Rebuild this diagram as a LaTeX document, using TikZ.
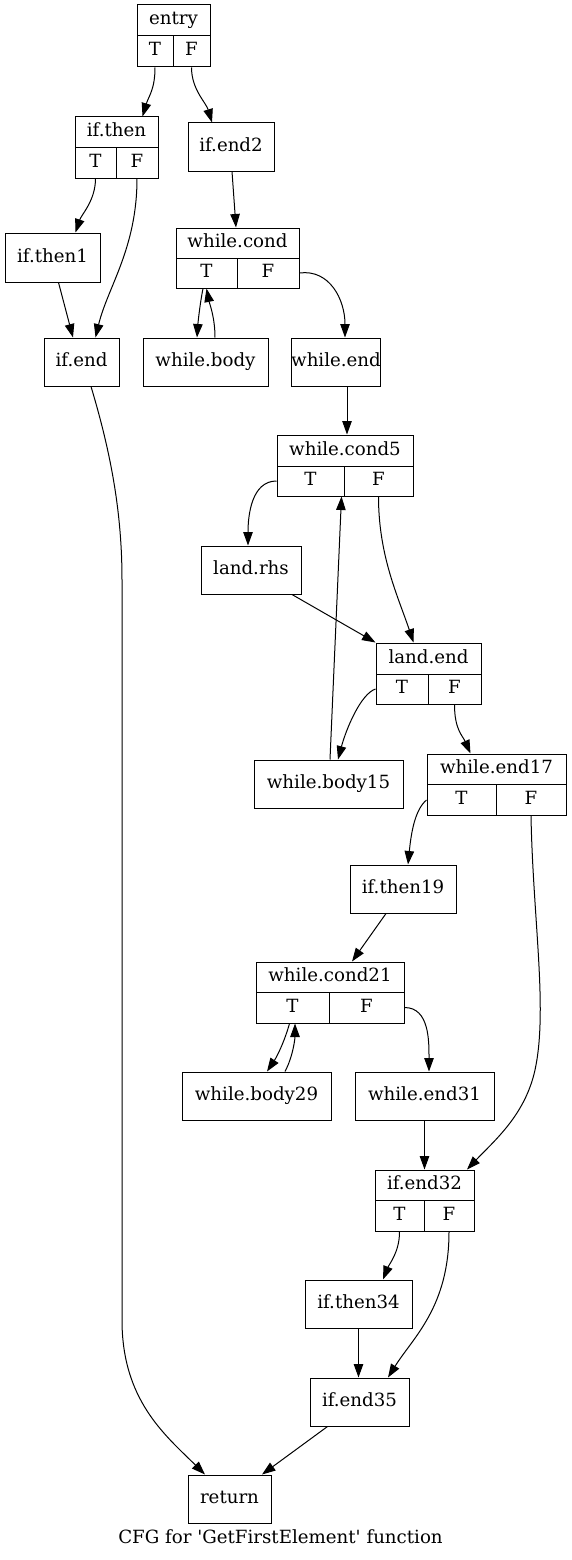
\documentclass[tikz,border=0pt]{standalone}
\usepackage{fontspec}
\setmainfont{DejaVu Serif}[Ligatures=TeXOff]
\usetikzlibrary{arrows.meta,calc}

\tikzset{
	blk/.style={draw, line width=1pt, inner sep=0pt, text height=13pt, text depth=4pt,
		font=\fontsize{18.2}{21}\selectfont},
	sz/.style 2 args={minimum width=#1pt, minimum height=#2pt},
	edge/.style={line width=1pt, -{Triangle[length=13.5pt,width=9.5pt]}},
}

\begin{document}
\begin{tikzpicture}[x=1pt,y=-1pt]
		\useasboundingbox (0,0) rectangle (571,1560);

		% entry block with its T and F cells
		\node[blk, sz={73}{31}] (entry) at (173.5,20.5) {entry};
		\node[blk, sz={36}{31}] (entryT) at (155,51.5) {T};
		\node[blk, sz={37}{31}] (entryF) at (191.5,51.5) {F};

		% if.then block
		\node[blk, sz={83}{30}] (ifthen) at (116.5,132) {if.then};
		\node[blk, sz={41}{31}] (ifthenT) at (95.5,162.5) {T};
		\node[blk, sz={42}{31}] (ifthenF) at (137,162.5) {F};

		% if.end2, if.then1, if.end
		\node[blk, sz={86}{48}] (ifend2) at (231,147) {if.end2};
		\node[blk, sz={95}{49}] (ifthen1) at (52.5,257.5) {if.then1};
		\node[blk, sz={75}{48}] (ifend) at (81.5,362) {if.end};

		% while.cond block
		\node[blk, sz={123}{30}] (whilecond) at (237.5,243) {while.cond};
		\node[blk, sz={61}{30}] (whilecondT) at (206.5,273) {T};
		\node[blk, sz={62}{30}] (whilecondF) at (268,273) {F};

		% while.body, while.end
		\node[blk, sz={125}{48}] (whilebody) at (205.5,362) {while.body};
		\node[blk, sz={88}{48}] (whileend) at (336,362) {while.end};

		% while.cond5 block
		\node[blk, sz={136}{31}] (whilecondfive) at (345,450.5) {while.cond5};
		\node[blk, sz={67}{30}] (whilecondfiveT) at (310.5,481) {T};
		\node[blk, sz={69}{30}] (whilecondfiveF) at (378.5,481) {F};

		% land.rhs
		\node[blk, sz={100}{48}] (landrhs) at (251,570) {land.rhs};

		% land.end block
		\node[blk, sz={105}{31}] (landend) at (428.5,658.5) {land.end};
		\node[blk, sz={52}{30}] (landendT) at (402,689) {T};
		\node[blk, sz={53}{30}] (landendF) at (454.5,689) {F};

		% while.body15
		\node[blk, sz={149}{48}] (whilebodyfifteen) at (328.5,784) {while.body15};

		% while.end17 block
		\node[blk, sz={139}{30}] (whileendseventeen) at (496.5,769) {while.end17};
		\node[blk, sz={69}{31}] (whileendseventeenT) at (461.5,800) {T};
		\node[blk, sz={70}{31}] (whileendseventeenF) at (531,800) {F};

		% if.then19
		\node[blk, sz={106}{48}] (ifthennineteen) at (403,889) {if.then19};

		% while.cond21 block
		\node[blk, sz={148}{30}] (whilecondtwentyone) at (330,977) {while.cond21};
		\node[blk, sz={73}{31}] (whilecondtwentyoneT) at (292.5,1007.5) {T};
		\node[blk, sz={75}{31}] (whilecondtwentyoneF) at (366.5,1007.5) {F};

		% while.body29, while.end31
		\node[blk, sz={149}{48}] (whilebodytwentynine) at (256.5,1096) {while.body29};
		\node[blk, sz={139}{48}] (whileendthirtyone) at (424.5,1096) {while.end31};

		% if.end32 block
		\node[blk, sz={99}{30}] (ifendthirtytwo) at (424.5,1185) {if.end32};
		\node[blk, sz={49}{31}] (ifendthirtytwoT) at (399.5,1216) {T};
		\node[blk, sz={50}{31}] (ifendthirtytwoF) at (449,1216) {F};

		% if.then34, if.end35, return
		\node[blk, sz={107}{48}] (ifthenthirtyfour) at (358.5,1304) {if.then34};
		\node[blk, sz={99}{48}] (ifendthirtyfive) at (359.5,1402) {if.end35};
		\node[blk, sz={83}{48}] (return) at (229.5,1499) {return};

		% caption
		\node[anchor=base, inner sep=0pt, font=\fontsize{18.2}{21}\selectfont] (caption) at (280.5,1543)
			{CFG for 'GetFirstElement' function};

		% edges of the upper part
		\draw[edge] (entryT.south) .. controls +(0,22) and +(6,-20) .. ($(ifthen.north)+(26,0)$);
		\draw[edge] (entryF.south) .. controls +(0,22) and +(-6,-20) .. ($(ifend2.north)+(-19,0)$);
		\draw[edge] (ifthenT.south) .. controls +(0,22) and +(6,-18) .. ($(ifthen1.north)+(23,0)$);
		\draw[edge] (ifthenF.south) .. controls +(0,70) and +(12,-50) .. ($(ifend.north)+(14,0)$);
		\draw[edge] ($(ifthen1.south)+(6,0)$) -- ($(ifend.north)+(-8.5,0)$);
		\draw[edge] ($(ifend2.south)+(1,0)$) -- ($(whilecond.north)+(-1.5,0)$);

		% while.cond loop
		\draw[edge] ($(whilecondT.south)+(-3.5,0)$) .. controls +(-3,15) and +(1,-15) .. ($(whilebody.north)+(-8.5,0)$);
		\draw[edge] ($(whilebody.north)+(9.5,0)$) .. controls +(0,-20) and +(3,15) .. (whilecondT.south);
		\draw[edge] (whilecondF.east) .. controls +(30,-4) and +(0,-38) .. ($(whileend.north)+(9,0)$);
		\draw[edge] ($(whileend.south)+(11,0)$) -- ($(whilecondfive.north)+(2,0)$);

		% while.cond5 and land.end
		\draw[edge] (whilecondfiveT.west) .. controls +(-25,0) and +(0,-30) .. ($(landrhs.north)+(-3,0)$);
		\draw[edge] (whilecondfiveF.south) .. controls +(0,60) and +(-15,-45) .. ($(landend.north)+(-15,0)$);
		\draw[edge] ($(landrhs.south)+(41,0)$) -- (landend.north west);
		\draw[edge] (landendT.west) .. controls +(-15,5) and +(8,-30) .. ($(whilebodyfifteen.north)+(9.5,0)$);
		\draw[edge] ($(whilebodyfifteen.north)+(1.5,0)$) -- ($(whilecondfiveT.south)+(31,0)$);
		\draw[edge] (landendF.south) .. controls +(0,25) and +(-8,-18) .. ($(whileendseventeen.north)+(-26,0)$);

		% while.end17 and while.cond21
		\draw[edge] (whileendseventeenT.west) .. controls +(-12,10) and +(3,-30) .. ($(ifthennineteen.north)+(5,0)$);
		\draw[edge] (whileendseventeenF.south) .. controls (533,920) and (548,1010) .. (535,1070)
			.. controls (525,1115) and (495,1140) .. ($(ifendthirtytwo.north)+(42.5,0)$);
		\draw[edge] ($(ifthennineteen.south)+(-17,0)$) -- ($(whilecondtwentyone.north)+(22,0)$);
		\draw[edge] ($(whilecondtwentyoneT.south)+(-3,0)$) .. controls +(-5,18) and +(10,-15) .. ($(whilebodytwentynine.north)+(10.5,0)$);
		\draw[edge] ($(whilebodytwentynine.north)+(28.5,0)$) .. controls +(8,-15) and +(0,15) .. ($(whilecondtwentyoneT.south)+(2.5,0)$);
		\draw[edge] (whilecondtwentyoneF.east) .. controls +(25,0) and +(0,-30) .. ($(whileendthirtyone.north)+(4.5,0)$);
		\draw[edge] (whileendthirtyone.south) -- (ifendthirtytwo.north);

		% lower part
		\draw[edge] (ifendthirtytwoT.south) .. controls +(0,20) and +(6,-15) .. ($(ifthenthirtyfour.north)+(24.5,0)$);
		\draw[edge] (ifendthirtytwoF.south) .. controls +(0,75) and +(25,-40) .. ($(ifendthirtyfive.north)+(28.5,0)$);
		\draw[edge] (ifthenthirtyfour.south) -- (ifthenthirtyfour.south |- ifendthirtyfive.north);
		\draw[edge] ($(ifendthirtyfive.south)+(-32,0)$) -- ($(return.north)+(32.5,0)$);
		\draw[edge] ($(ifend.south)+(9.5,0)$) .. controls (110,450) and (122,510) .. (122,580) -- (122,1320)
			.. controls (122,1400) and (165,1435) .. ($(return.north)+(-24.5,0)$);
	\end{tikzpicture}
\end{document}
